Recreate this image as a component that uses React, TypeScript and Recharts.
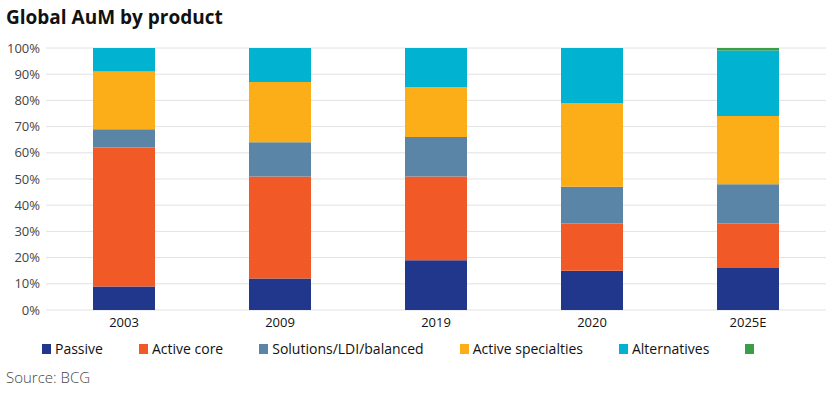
import { Bar, BarChart, CartesianGrid, XAxis, YAxis } from "recharts";

const years = ["2003", "2009", "2019", "2020", "2025E"];
const passive = [9, 12, 19, 15, 16];
const activeCore = [53, 39, 32, 18, 17];
const solutions = [7, 13, 15, 14, 15];
const activeSpecialties = [22, 23, 19, 32, 26];
const alternatives = [9, 13, 15, 21, 25];
const other = [0, 0, 0, 0, 1];
const yTicks = [0, 10, 20, 30, 40, 50, 60, 70, 80, 90, 100];

const series = [
  { key: "passive", name: "Passive", color: "#21378C" },
  { key: "activeCore", name: "Active core", color: "#F15A27" },
  { key: "solutions", name: "Solutions/LDI/balanced", color: "#5A85A6" },
  { key: "activeSpecialties", name: "Active specialties", color: "#FBAE18" },
  { key: "alternatives", name: "Alternatives", color: "#02B2D1" },
  { key: "other", name: "", color: "#3A9D48" },
];

const data = years.map((year, i) => ({
  year,
  passive: passive[i],
  activeCore: activeCore[i],
  solutions: solutions[i],
  activeSpecialties: activeSpecialties[i],
  alternatives: alternatives[i],
  other: other[i],
}));

const font = "'Open Sans', sans-serif";

export default function App() {
  return (
    <div
      style={{
        position: "absolute",
        top: 0,
        left: 0,
        width: 830,
        height: 393,
        background: "#fff",
        fontFamily: font,
      }}
    >
      <div
        style={{
          position: "absolute",
          left: 6,
          top: 4,
          fontSize: 19,
          fontWeight: 700,
          color: "#111",
        }}
      >
        Global AuM by product
      </div>
      <BarChart
        width={830}
        height={340}
        data={data}
        margin={{ top: 48, right: 4, left: 0, bottom: 0 }}
        barSize={62}
      >
        <CartesianGrid vertical={false} stroke="#e2e2e2" strokeWidth={1} />
        <XAxis
          dataKey="year"
          axisLine={false}
          tickLine={false}
          height={30}
          tick={{ fontSize: 13, fill: "#111", fontFamily: font }}
          tickMargin={2}
        />
        <YAxis
          width={46}
          domain={[0, 100]}
          ticks={yTicks}
          axisLine={false}
          tickLine={false}
          tickFormatter={(v: number) => `${v}%`}
          tick={{ fontSize: 13, fill: "#444", fontFamily: font }}
          tickMargin={0}
        />
        {series.map((s) => (
          <Bar
            key={s.key}
            dataKey={s.key}
            name={s.name}
            stackId="a"
            fill={s.color}
            isAnimationActive={false}
          />
        ))}
      </BarChart>
      <div
        style={{
          position: "absolute",
          left: 42,
          top: 339,
          display: "flex",
          gap: 36,
          fontSize: 14,
          color: "#111",
        }}
      >
        {series.map((s) => (
          <div key={s.key} style={{ display: "flex", alignItems: "center", gap: 4 }}>
            <span style={{ width: 9, height: 10, background: s.color, display: "inline-block" }} />
            {s.name && <span>{s.name}</span>}
          </div>
        ))}
      </div>
      <div
        style={{
          position: "absolute",
          left: 6,
          top: 367,
          fontSize: 15,
          color: "#444",
          fontWeight: 300,
        }}
      >
        Source: BCG
      </div>
    </div>
  );
}
